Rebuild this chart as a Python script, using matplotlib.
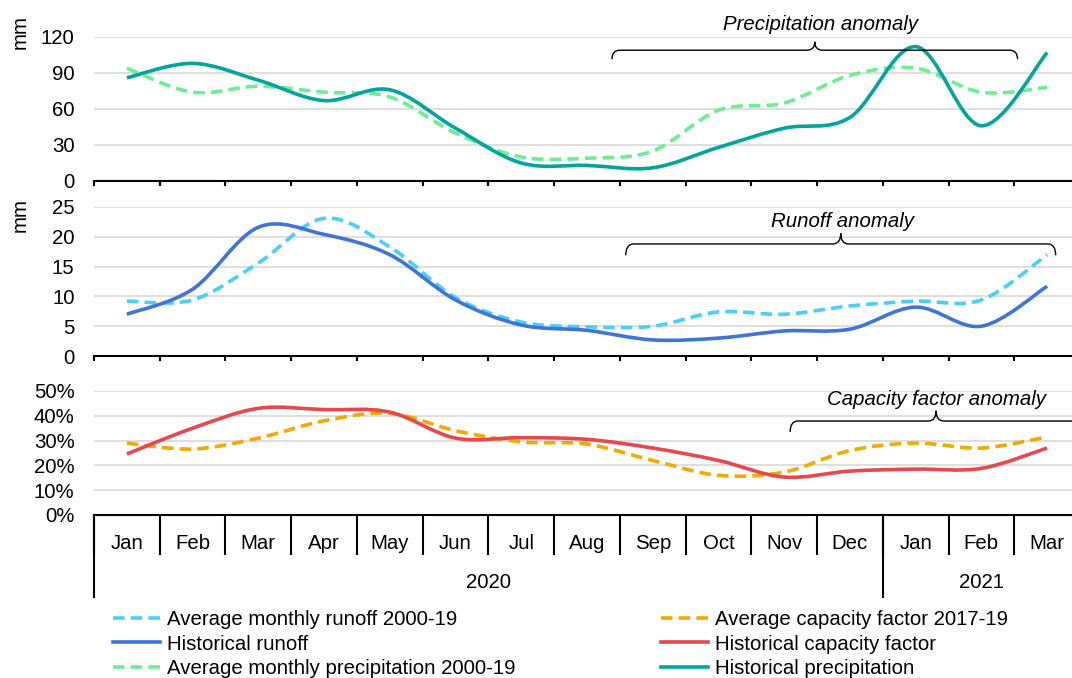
import matplotlib
matplotlib.use("Agg")
import matplotlib.pyplot as plt
import matplotlib.transforms as mtransforms
from matplotlib.path import Path
from matplotlib.patches import PathPatch
from matplotlib.lines import Line2D
from matplotlib.ticker import FuncFormatter, MultipleLocator, FixedLocator

plt.rcParams['font.family'] = ['Liberation Sans', 'DejaVu Sans']

months = ['Jan', 'Feb', 'Mar', 'Apr', 'May', 'Jun', 'Jul', 'Aug', 'Sep', 'Oct',
          'Nov', 'Dec', 'Jan', 'Feb', 'Mar']
years = ['2020', '2021']
year_spans = [(0, 11), (12, 14)]

# precipitation, mm
precip_avg = [94, 74, 79, 74, 70, 40, 20, 19, 25, 59, 65, 88, 94, 74, 78]
precip_hist = [86, 98, 84, 67, 76, 44, 15, 13, 11, 28, 44, 53, 112, 46, 107]

# runoff, mm
runoff_avg = [9.2, 9.4, 15.6, 23.1, 18.3, 9.8, 5.7, 4.9, 5.0, 7.4, 7.0, 8.4, 9.2, 9.4, 17.0]
runoff_hist = [7.0, 11.2, 21.6, 20.4, 17.0, 9.4, 5.2, 4.3, 2.7, 3.0, 4.2, 4.5, 8.2, 5.0, 11.7]

# capacity factor, fraction
cf_avg = [0.29, 0.266, 0.31, 0.38, 0.41, 0.34, 0.295, 0.286, 0.22, 0.16, 0.173, 0.26, 0.29, 0.27, 0.315]
cf_hist = [0.246, 0.35, 0.43, 0.425, 0.415, 0.31, 0.312, 0.305, 0.27, 0.22, 0.153, 0.177, 0.185, 0.188, 0.27]

C_RUNOFF_AVG = '#46CFFF'
C_RUNOFF = '#3F76D4'
C_PRECIP_AVG = '#6CEE92'
C_PRECIP = '#00A69C'
C_CF_AVG = '#F2A900'
C_CF = '#E8474C'

FS = 14.7
LW = 2.6
DASH = (0, (3.2, 1.7))

W_PX, H_PX = 1072, 678
LEFT_PX, RIGHT_PX = 94, 1080


def rect(top, bottom):
    return [LEFT_PX / W_PX, 1 - bottom / H_PX, (RIGHT_PX - LEFT_PX) / W_PX, (bottom - top) / H_PX]


def smooth_curve(ax, xs, ys, color, dashed):
    # Bezier segments through every point, like a spreadsheet "smoothed line"
    pts = list(zip(xs, ys))
    n = len(pts)
    verts = [pts[0]]
    codes = [Path.MOVETO]
    for i in range(n - 1):
        p0 = pts[max(i - 1, 0)]
        p1 = pts[i]
        p2 = pts[i + 1]
        p3 = pts[min(i + 2, n - 1)]
        c1 = (p1[0] + (p2[0] - p0[0]) / 6, p1[1] + (p2[1] - p0[1]) / 6)
        c2 = (p2[0] - (p3[0] - p1[0]) / 6, p2[1] - (p3[1] - p1[1]) / 6)
        verts += [c1, c2, p2]
        codes += [Path.CURVE4] * 3
    patch = PathPatch(Path(verts, codes), fill=False, edgecolor=color, lw=LW,
                      linestyle=DASH if dashed else '-', capstyle='butt', joinstyle='round',
                      zorder=3)
    ax.add_patch(patch)


def brace(ax, x0, x1, y_line, y_tip, y_cusp, r=0.12):
    xc = (x0 + x1) / 2
    verts = [(x0, y_tip), (x0, y_line), (x0 + r, y_line),
             (xc - r, y_line), (xc, y_line), (xc, y_cusp),
             (xc, y_line), (xc + r, y_line),
             (x1 - r, y_line), (x1, y_line), (x1, y_tip)]
    codes = [Path.MOVETO, Path.CURVE3, Path.CURVE3,
             Path.LINETO, Path.CURVE3, Path.CURVE3,
             Path.CURVE3, Path.CURVE3,
             Path.LINETO, Path.CURVE3, Path.CURVE3]
    ax.add_patch(PathPatch(Path(verts, codes), fill=False, edgecolor='black', lw=1.0,
                           clip_on=False, zorder=4))


fig = plt.figure(figsize=(W_PX / 100, H_PX / 100), dpi=100)
ax_p = fig.add_axes(rect(37, 181))
ax_r = fig.add_axes(rect(207, 356))
ax_c = fig.add_axes(rect(391, 515))

x = list(range(len(months)))
bounds = [i - 0.5 for i in range(len(months) + 1)]

for ax in (ax_p, ax_r, ax_c):
    ax.set_xlim(-0.5, len(months) - 0.5)
    for s in ('top', 'right', 'left'):
        ax.spines[s].set_visible(False)
    ax.spines['bottom'].set_linewidth(1.5)
    ax.spines['bottom'].set_zorder(5)
    ax.yaxis.grid(True, color='#d9d9d9', lw=1.2)
    ax.set_axisbelow(True)
    ax.tick_params(axis='y', length=0, pad=14, labelsize=FS)
    ax.xaxis.set_minor_locator(FixedLocator(bounds))
    ax.tick_params(axis='x', which='minor', length=3.8, width=1.5, direction='out')
    ax.set_xticks([])

ax_p.set_ylim(0, 120)
ax_p.yaxis.set_major_locator(MultipleLocator(30))
ax_r.set_ylim(0, 25)
ax_r.yaxis.set_major_locator(MultipleLocator(5))
ax_c.set_ylim(0, 0.5)
ax_c.yaxis.set_major_locator(MultipleLocator(0.1))
ax_c.yaxis.set_major_formatter(FuncFormatter(lambda v, _: f'{v * 100:.0f}%'))

smooth_curve(ax_p, x, precip_avg, C_PRECIP_AVG, True)
smooth_curve(ax_p, x, precip_hist, C_PRECIP, False)
smooth_curve(ax_r, x, runoff_avg, C_RUNOFF_AVG, True)
smooth_curve(ax_r, x, runoff_hist, C_RUNOFF, False)
smooth_curve(ax_c, x, cf_avg, C_CF_AVG, True)
smooth_curve(ax_c, x, cf_hist, C_CF, False)

# anomaly braces and captions
brace(ax_p, 7.38, 13.55, 109, 101.5, 116)
ax_p.text(10.56, 130, 'Precipitation anomaly', style='italic', fontsize=FS,
          ha='center', va='center', clip_on=False)
brace(ax_r, 7.59, 14.13, 18.8, 16.9, 20.6)
ax_r.text(10.89, 22.6, 'Runoff anomaly', style='italic', fontsize=FS,
          ha='center', va='center', clip_on=False)
brace(ax_c, 10.09, 14.53, 0.379, 0.335, 0.42)
ax_c.text(12.31, 0.464, 'Capacity factor anomaly', style='italic', fontsize=FS,
          ha='center', va='center', clip_on=False)

fig.text(20 / W_PX, 1 - 32 / H_PX, 'mm', rotation=90, fontsize=FS, ha='center', va='center')
fig.text(20 / W_PX, 1 - 215 / H_PX, 'mm', rotation=90, fontsize=FS, ha='center', va='center')

# two-level category axis under the bottom panel
ax_c.set_xticks(x)
ax_c.set_xticklabels(months)
ax_c.tick_params(axis='x', which='major', length=0, pad=14, labelsize=FS)
ax_c.tick_params(axis='x', which='minor', length=28.8, width=1.5)
trans = mtransforms.blended_transform_factory(ax_c.transData, fig.transFigure)
for (start, end), label in zip(year_spans, years):
    ax_c.plot([start - 0.5, start - 0.5], [1 - 515 / H_PX, 1 - 597 / H_PX], color='black',
              lw=1.5, transform=trans, clip_on=False)
    ax_c.text((start + end) / 2, 1 - 583 / H_PX, label, fontsize=FS, ha='center',
              va='center', transform=trans)

handles = [
    Line2D([], [], color=C_RUNOFF_AVG, lw=LW, linestyle=DASH),
    Line2D([], [], color=C_RUNOFF, lw=LW),
    Line2D([], [], color=C_PRECIP_AVG, lw=LW, linestyle=DASH),
    Line2D([], [], color=C_CF_AVG, lw=LW, linestyle=DASH),
    Line2D([], [], color=C_CF, lw=LW),
    Line2D([], [], color=C_PRECIP, lw=LW),
]
labels = ['Average monthly runoff 2000-19', 'Historical runoff',
          'Average monthly precipitation 2000-19', 'Average capacity factor 2017-19',
          'Historical capacity factor', 'Historical precipitation']
fig.legend(handles, labels, loc='upper left', bbox_to_anchor=(113 / W_PX, 1 - 610 / H_PX),
           ncol=2, frameon=False, fontsize=FS, handlelength=2.3, handletextpad=0.35,
           columnspacing=7.1, labelspacing=0.27, borderaxespad=0, borderpad=0)

fig.savefig('out.png', dpi=100)
